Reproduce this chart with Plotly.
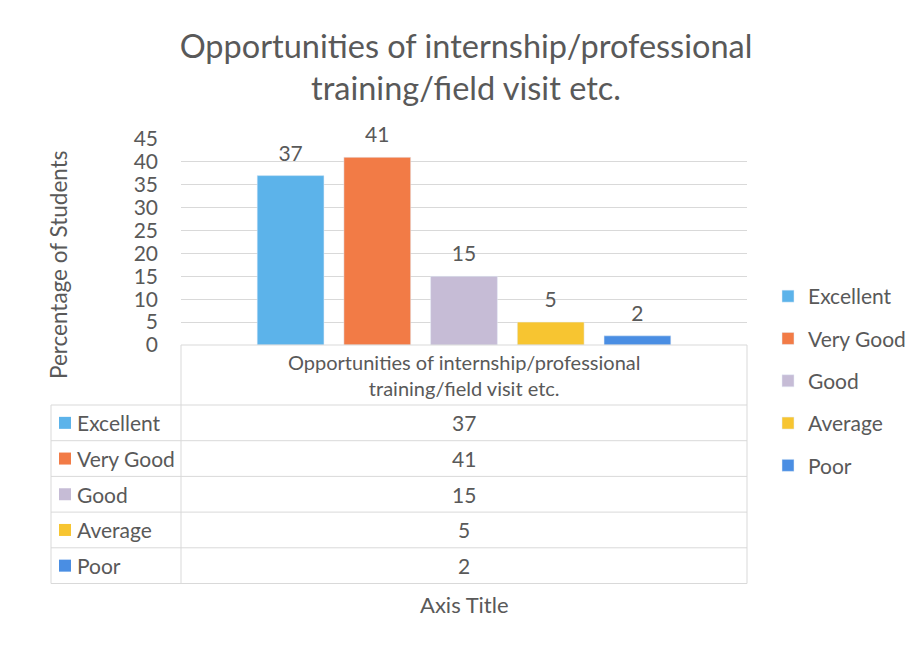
import plotly.graph_objects as go

category = "Opportunities of internship/professional<br>training/field visit etc."
series_names = ["Excellent", "Very Good", "Good", "Average", "Poor"]
values = [37, 41, 15, 5, 2]
colors = ["#5cb3ea", "#f27b46", "#c6bcd6", "#f7c531", "#4a8ee3"]
title_text = "Opportunities of internship/professional<br>training/field visit etc."
y_title = "Percentage of Students"
x_title = "Axis Title"

W, H = 916, 647
OFF = 8  # page body margin offset
FONT = "Lato, Open Sans, sans-serif"
GREY = "#595959"
LINE = "#d9d9d9"

# plot area in pixels (screen)
PL, PR, PT, PB = 181, 747, 139, 345
TL = 51  # table left
row_top = 405
row_h = 35.7
BARGAP = 0.234


def px(x):
    return (x - OFF) / W


def py(y):
    return 1 - (y - OFF) / H


fig = go.Figure()
for n, v, c in zip(series_names, values, colors):
    fig.add_trace(go.Bar(
        x=[category], y=[v], name=n, marker_color=c, legendgroup=n,
        offsetgroup=n, hoverinfo="skip",
    ))
for n, v, c in zip(series_names, values, colors):
    fig.add_trace(go.Scatter(
        x=[category], y=[v], mode="markers+text", text=[str(v)], textposition="top center",
        marker=dict(size=14, opacity=0), offsetgroup=n, showlegend=False, hoverinfo="skip",
        textfont=dict(size=21, color=GREY, family=FONT), cliponaxis=False,
    ))

shapes = []
annotations = []
# table grid lines
shapes.append(dict(type="line", xref="paper", yref="paper", x0=px(PL), x1=px(PL),
                   y0=py(PB), y1=py(row_top + 5 * row_h), line=dict(color=LINE, width=1)))
shapes.append(dict(type="line", xref="paper", yref="paper", x0=px(PR), x1=px(PR),
                   y0=py(PB), y1=py(row_top + 5 * row_h), line=dict(color=LINE, width=1)))
shapes.append(dict(type="line", xref="paper", yref="paper", x0=px(TL), x1=px(TL),
                   y0=py(row_top), y1=py(row_top + 5 * row_h), line=dict(color=LINE, width=1)))
for k in range(6):
    yy = row_top + k * row_h
    shapes.append(dict(type="line", xref="paper", yref="paper", x0=px(TL), x1=px(PR),
                       y0=py(yy), y1=py(yy), line=dict(color=LINE, width=1)))
shapes.append(dict(type="line", xref="paper", yref="paper", x0=px(PL), x1=px(PR),
                   y0=py(PB), y1=py(PB), line=dict(color=LINE, width=1)))

# header category label
annotations.append(dict(xref="paper", yref="paper", x=px((PL + PR) / 2), y=py((PB + row_top) / 2),
                        text=category, showarrow=False, font=dict(size=20, color=GREY, family=FONT),
                        xanchor="center", yanchor="middle"))
for k, (n, v, c) in enumerate(zip(series_names, values, colors)):
    yc = row_top + (k + 0.5) * row_h
    shapes.append(dict(type="rect", xref="paper", yref="paper", x0=px(59), x1=px(71),
                       y0=py(yc - 6), y1=py(yc + 6), line=dict(width=0), fillcolor=c))
    annotations.append(dict(xref="paper", yref="paper", x=px(75), y=py(yc), text=n, showarrow=False,
                            font=dict(size=21, color=GREY, family=FONT), xanchor="left", yanchor="middle"))
    annotations.append(dict(xref="paper", yref="paper", x=px((PL + PR) / 2), y=py(yc), text=str(v),
                            showarrow=False, font=dict(size=21, color=GREY, family=FONT),
                            xanchor="center", yanchor="middle"))

annotations.append(dict(xref="paper", yref="paper", x=px(464), y=py(604), text=x_title, showarrow=False,
                        font=dict(size=22, color=GREY, family=FONT), xanchor="center", yanchor="middle"))
annotations.append(dict(xref="paper", yref="paper", x=px(58), y=py(265), text=y_title, showarrow=False,
                        textangle=-90, font=dict(size=22.5, color=GREY, family=FONT),
                        xanchor="center", yanchor="middle"))

fig.update_layout(
    width=W, height=H,
    margin=dict(l=0, r=0, t=0, b=0, autoexpand=False),
    paper_bgcolor="white", plot_bgcolor="white",
    title=dict(text=title_text, x=px(466), xanchor="center", y=py(57.5), yanchor="middle",
               font=dict(size=32.5, color=GREY, family=FONT)),
    barmode="group", bargap=BARGAP, bargroupgap=0.23,
    scattermode="group", scattergap=BARGAP,
    xaxis=dict(domain=[px(PL), px(PR)], showticklabels=False, showgrid=False,
               showline=False, zeroline=False, ticks=""),
    yaxis=dict(domain=[py(PB), py(PT)], range=[0, 45], dtick=5, showgrid=True, gridcolor=LINE,
               zeroline=False, showline=False, ticks="", ticklabelstandoff=22,
               tickfont=dict(size=21, color=GREY, family=FONT)),
    legend=dict(x=px(768), y=py(276), xanchor="left", yanchor="top", tracegroupgap=12,
                font=dict(size=21, color=GREY, family=FONT), itemwidth=30),
    showlegend=True,
    shapes=shapes, annotations=annotations,
)

fig.write_html("out.html")
